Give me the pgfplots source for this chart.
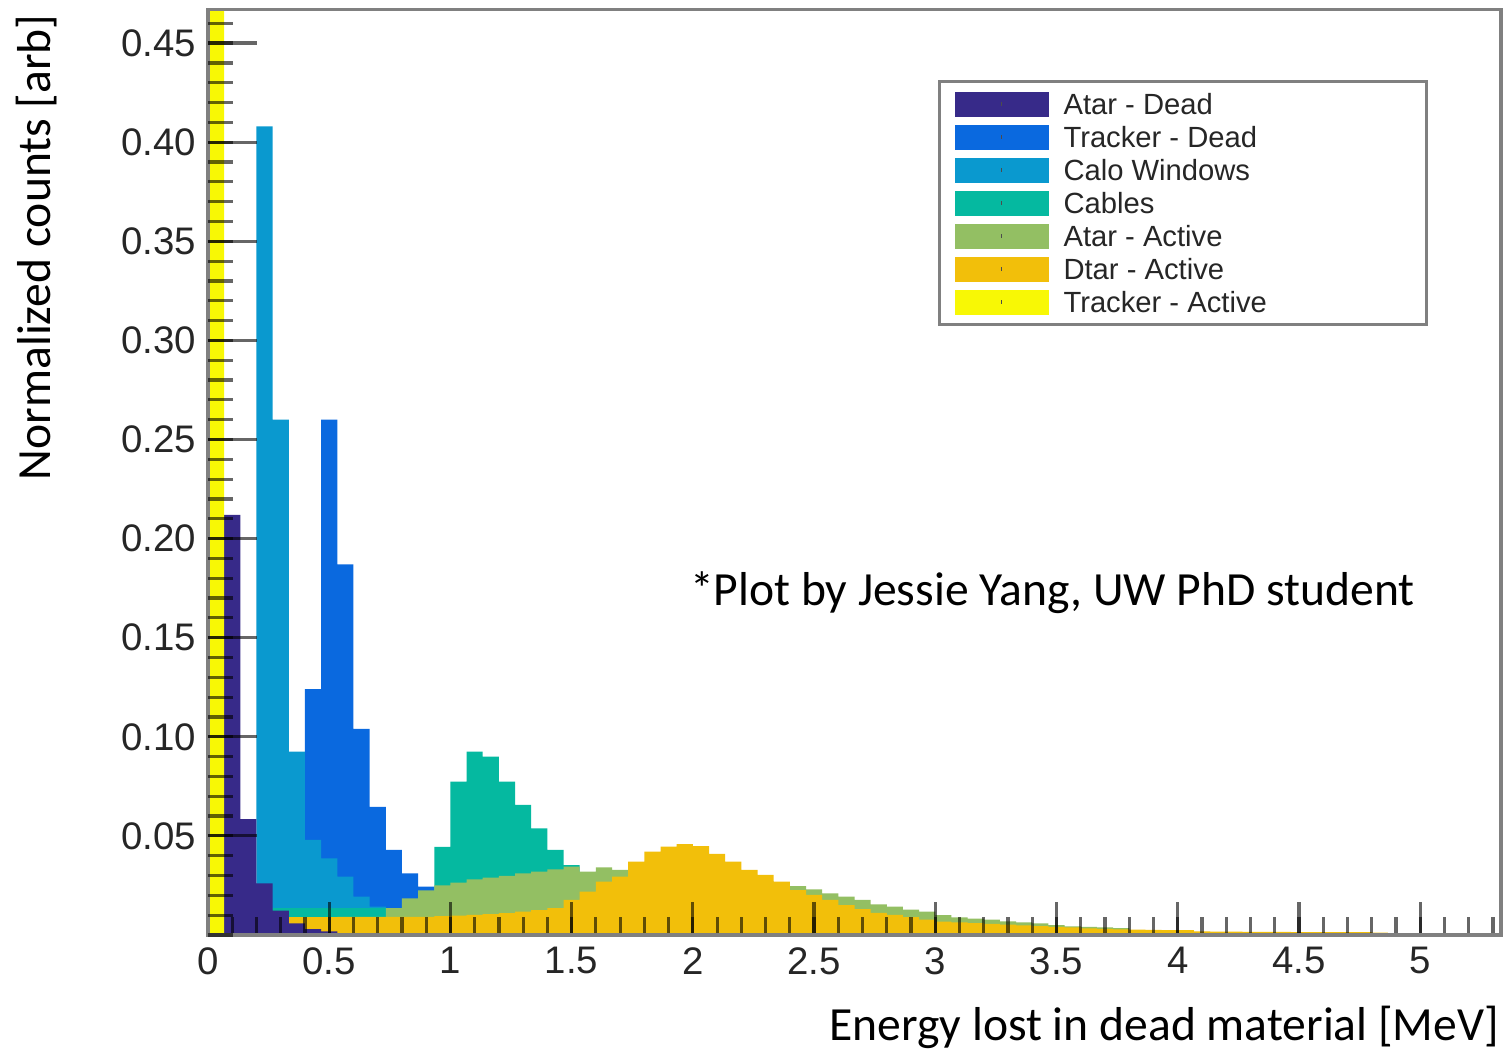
\documentclass[border=0pt]{standalone}
\usepackage{fontspec}
\setmainfont{Liberation Sans}
\newfontfamily\calibri{Carlito}
\usepackage{pgfplots}
\usepackage{pgfplotstable}
\pgfplotsset{compat=1.18}

\definecolor{atdcol}{HTML}{372A89}
\definecolor{trdcol}{HTML}{0A69DF}
\definecolor{calocol}{HTML}{0A99CF}
\definecolor{cabcol}{HTML}{05B9A0}
\definecolor{atacol}{HTML}{93BF63}
\definecolor{dtacol}{HTML}{F2BF0A}
\definecolor{tracol}{HTML}{F8F805}

% bin left edges (bin width 1/15 MeV); values = normalized counts
\pgfplotstableread{
x atd trd calo cab ata dta tra
0.0000 0 0 0 0 0 0 0.6
0.0667 0.212 0 0 0 0 0 0
0.1333 0.0585 0 0.02 0 0 0 0
0.2000 0.026 0.005 0.408 0.005 0 0 0
0.2667 0.0123 0.010 0.260 0.0135 0.002 0.004 0
0.3333 0.0059 0.020 0.0925 0.0135 0.004 0.0090 0
0.4000 0.0030 0.124 0.048 0.0135 0.005 0.0090 0
0.4667 0.0018 0.260 0.0387 0.0135 0.006 0.0090 0
0.5333 0.0010 0.187 0.0294 0.0135 0.007 0.0092 0
0.6000 0.0006 0.104 0.0193 0.0135 0.008 0.0092 0
0.6667 0.0003 0.0647 0.0143 0.0135 0.0085 0.0092 0
0.7333 0 0.0429 0.011 0.013 0.0135 0.0092 0
0.8000 0 0.0311 0.009 0.014 0.0185 0.0092 0
0.8667 0 0.0244 0.007 0.016 0.0225 0.0092 0
0.9333 0 0.018 0.005 0.0445 0.025 0.0095 0
1.0000 0 0.012 0.004 0.0774 0.0264 0.0098 0
1.0667 0 0.008 0.003 0.0925 0.0281 0.0101 0
1.1333 0 0.005 0.002 0.0900 0.0289 0.0105 0
1.2000 0 0.003 0.0015 0.0774 0.0298 0.0110 0
1.2667 0 0.002 0.001 0.0656 0.0311 0.0118 0
1.3333 0 0.001 0.001 0.0538 0.0320 0.0126 0
1.4000 0 0.0005 0.0005 0.0429 0.0331 0.0135 0
1.4667 0 0 0 0.0353 0.0345 0.0177 0
1.5333 0 0 0 0.028 0.0320 0.0219 0
1.6000 0 0 0 0.022 0.0341 0.0269 0
1.6667 0 0 0 0.017 0.0328 0.0294 0
1.7333 0 0 0 0.013 0.0330 0.0370 0
1.8000 0 0 0 0.010 0.0330 0.0420 0
1.8667 0 0 0 0.008 0.0320 0.0446 0
1.9333 0 0 0 0.006 0.0320 0.0459 0
2.0000 0 0 0 0.005 0.0310 0.0449 0
2.0667 0 0 0 0.004 0.0300 0.0409 0
2.1333 0 0 0 0.003 0.0290 0.0370 0
2.2000 0 0 0 0.002 0.0280 0.0328 0
2.2667 0 0 0 0.002 0.0270 0.0303 0
2.3333 0 0 0 0.001 0.0260 0.0269 0
2.4000 0 0 0 0.001 0.0247 0.0227 0
2.4667 0 0 0 0 0.0230 0.0202 0
2.5333 0 0 0 0 0.0210 0.0177 0
2.6000 0 0 0 0 0.0193 0.0151 0
2.6667 0 0 0 0 0.0177 0.0131 0
2.7333 0 0 0 0 0.0155 0.0112 0
2.8000 0 0 0 0 0.0143 0.0101 0
2.8667 0 0 0 0 0.0128 0.0090 0
2.9333 0 0 0 0 0.0118 0.0078 0
3.0000 0 0 0 0 0.0100 0.0068 0
3.0667 0 0 0 0 0.0089 0.0064 0
3.1333 0 0 0 0 0.0082 0.0060 0
3.2000 0 0 0 0 0.0077 0.0056 0
3.2667 0 0 0 0 0.0069 0.0052 0
3.3333 0 0 0 0 0.0064 0.0048 0
3.4000 0 0 0 0 0.0058 0.0045 0
3.4667 0 0 0 0 0.0050 0.0041 0
3.5333 0 0 0 0 0.0044 0.0038 0
3.6000 0 0 0 0 0.0041 0.0034 0
3.6667 0 0 0 0 0.0038 0.0031 0
3.7333 0 0 0 0 0.0035 0.0028 0
3.8000 0 0 0 0 0.0024 0.0027 0
3.8667 0 0 0 0 0.0020 0.0026 0
3.9333 0 0 0 0 0.0018 0.0025 0
4.0000 0 0 0 0 0.0015 0.0024 0
4.0667 0 0 0 0 0.0012 0.0018 0
4.1333 0 0 0 0 0.0010 0.0017 0
4.2000 0 0 0 0 0.0008 0.0017 0
4.2667 0 0 0 0 0.0007 0.0016 0
4.3333 0 0 0 0 0.0006 0.0016 0
4.4000 0 0 0 0 0.0005 0.0016 0
4.4667 0 0 0 0 0.0004 0.0015 0
4.5333 0 0 0 0 0.0004 0.0015 0
4.6000 0 0 0 0 0.0003 0.0015 0
4.6667 0 0 0 0 0.0003 0.0014 0
4.7333 0 0 0 0 0.0002 0.0014 0
4.8000 0 0 0 0 0.0002 0.0012 0
4.8667 0 0 0 0 0 0.0005 0
4.9333 0 0 0 0 0 0.0004 0
5.0000 0 0 0 0 0 0.0004 0
5.0667 0 0 0 0 0 0.0004 0
5.1333 0 0 0 0 0 0.0009 0
5.2000 0 0 0 0 0 0.0003 0
5.2667 0 0 0 0 0 0.0003 0
5.3333 0 0 0 0 0 0 0
}\histdata

\newcommand\LegText[1]{\makebox[87pt][l]{\raisebox{-1.125pt}{\rule[-1.5pt]{0pt}{7pt}#1}}}
\newcommand\TickFont{\fontsize{9.6}{11}\selectfont}
\newcommand\LabFont{\calibri\fontsize{11.9}{14}\selectfont}

\begin{document}
\begin{tikzpicture}
\begin{axis}[
  at={(0,0)}, anchor=south west,
  scale only axis, width=323.25pt, height=231.4pt,
  xmin=0, xmax=5.3333, ymin=0, ymax=0.467,
  axis on top,
  tick pos=left, tick align=inside,
  xtick={0,0.5,1,1.5,2,2.5,3,3.5,4,4.5,5},
  minor xtick={0,0.1,0.2,0.3,0.4,0.5,0.6,0.7,0.8,0.9,1,1.1,1.2,1.3,1.4,1.5,1.6,1.7,1.8,1.9,2,2.1,2.2,2.3,2.4,2.5,2.6,2.7,2.8,2.9,3,3.1,3.2,3.3,3.4,3.5,3.6,3.7,3.8,3.9,4,4.1,4.2,4.3,4.4,4.5,4.6,4.7,4.8,4.9,5,5.1,5.2,5.3},
  ytick=\empty,
  major tick length=8.25pt, minor tick length=4.5pt,
  tick style={draw=black, draw opacity=0.6, line width=0.8pt},
  axis line style={draw=black!50, line width=0.8pt},
  /pgf/number format/assume math mode=true,
  xticklabel style={font=\TickFont, text=black!85, anchor=north, inner sep=0pt, yshift=-2.9pt},
  xlabel={Energy lost in dead material [MeV]},
  xlabel style={at={(axis description cs:0.9991,-0.0994)}, anchor=east, inner sep=0pt, font=\LabFont},
  ylabel={Normalized counts [arb]},
  ylabel style={at={(axis description cs:-0.1323,0.743)}, anchor=center, inner sep=0pt, font=\LabFont},
  legend image code/.code={\fill[#1] (0pt,-3.125pt) rectangle (23.5pt,3.125pt);
    \fill[black!70] (11.6pt,-0.5pt) rectangle (11.9pt,0.5pt);},
  legend cell align=left,
  legend style={at={(axis description cs:0.5646,0.9237)}, anchor=north west,
    draw=black!50, line width=0.75pt, fill=white,
    inner xsep=3.75pt, inner ysep=2.5pt, row sep=2.0pt, column sep=3.75pt,
    nodes={inner sep=0pt, font=\fontsize{7.3}{8}\selectfont, text=black!85}},
]
\addlegendimage{fill=atdcol, draw=none}\addlegendentry{\LegText{Atar - Dead}}
\addlegendimage{fill=trdcol, draw=none}\addlegendentry{\LegText{Tracker - Dead}}
\addlegendimage{fill=calocol, draw=none}\addlegendentry{\LegText{Calo Windows}}
\addlegendimage{fill=cabcol, draw=none}\addlegendentry{\LegText{Cables}}
\addlegendimage{fill=atacol, draw=none}\addlegendentry{\LegText{Atar - Active}}
\addlegendimage{fill=dtacol, draw=none}\addlegendentry{\LegText{Dtar - Active}}
\addlegendimage{fill=tracol, draw=none}\addlegendentry{\LegText{Tracker - Active}}

\addplot[const plot mark left, fill=trdcol, draw=none, forget plot] table[x=x, y=trd]{\histdata} \closedcycle;
\addplot[const plot mark left, fill=calocol, draw=none, forget plot] table[x=x, y=calo]{\histdata} \closedcycle;
\addplot[const plot mark left, fill=cabcol, draw=none, forget plot] table[x=x, y=cab]{\histdata} \closedcycle;
\addplot[const plot mark left, fill=atacol, draw=none, forget plot] table[x=x, y=ata]{\histdata} \closedcycle;
\addplot[const plot mark left, fill=dtacol, draw=none, forget plot] table[x=x, y=dta]{\histdata} \closedcycle;
\addplot[const plot mark left, fill=atdcol, draw=none, forget plot] table[x=x, y=atd]{\histdata} \closedcycle;
\addplot[const plot mark left, fill=tracol, draw=none, forget plot] table[x=x, y=tra]{\histdata} \closedcycle;

\node[font=\LabFont, anchor=center, inner sep=0pt] at (axis description cs:0.653,0.3695) {*Plot by Jessie Yang, UW PhD student};
\end{axis}

\begin{axis}[
  at={(0,0)}, anchor=south west,
  scale only axis, width=323.25pt, height=231.4pt,
  xmin=0, xmax=5.3333, ymin=0, ymax=0.467,
  axis line style={draw=none},
  tick pos=left, tick align=inside,
  xtick=\empty,
  ytick={0.05,0.10,0.15,0.20,0.25,0.30,0.35,0.40,0.45},
  minor ytick={0,0.01,0.02,0.03,0.04,0.05,0.06,0.07,0.08,0.09,0.10,0.11,0.12,0.13,0.14,0.15,0.16,0.17,0.18,0.19,0.20,0.21,0.22,0.23,0.24,0.25,0.26,0.27,0.28,0.29,0.30,0.31,0.32,0.33,0.34,0.35,0.36,0.37,0.38,0.39,0.40,0.41,0.42,0.43,0.44,0.45,0.46},
  major tick length=12.2pt, minor tick length=6.25pt,
  tick style={draw=black, draw opacity=0.6, line width=0.8pt},
  /pgf/number format/assume math mode=true,
  yticklabel style={font=\TickFont, text=black!85, anchor=east, inner sep=0pt, xshift=-2.8pt,
    /pgf/number format/fixed, /pgf/number format/fixed zerofill, /pgf/number format/precision=2},
]
\end{axis}
\pgfresetboundingbox
\useasboundingbox (-52pt,-28.75pt) rectangle (324pt,233.75pt);
\end{tikzpicture}
\end{document}
